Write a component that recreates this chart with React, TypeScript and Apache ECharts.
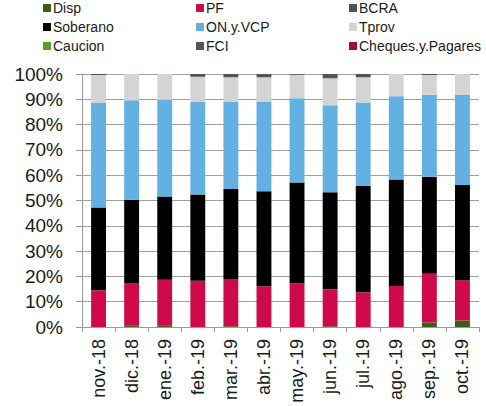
import React, { useEffect, useRef } from "react";
import * as echarts from "echarts";

const categories = ["nov.-18", "dic.-18", "ene.-19", "feb.-19", "mar.-19", "abr.-19", "may.-19", "jun.-19", "jul.-19", "ago.-19", "sep.-19", "oct.-19"];
const disp = [0, 0.5, 0.7, 0, 0.3, 0, 0, 0.3, 0, 0, 1.8, 2.6];
const pf = [14.5, 16.7, 18.0, 18.3, 18.7, 16.1, 17.3, 14.6, 13.7, 16.2, 19.2, 15.9];
const bcra = [0, 0, 0, 0, 0, 0, 0, 0, 0, 0, 0, 0];
const soberano = [32.7, 33.1, 32.9, 34.1, 35.5, 37.6, 39.8, 38.4, 42.0, 42.1, 38.4, 37.6];
const onVcp = [41.3, 39.3, 38.2, 36.5, 34.6, 35.4, 33.3, 34.3, 33.0, 32.9, 32.4, 35.6];
const tprov = [11.1, 10.4, 10.2, 10.0, 9.6, 9.6, 9.3, 10.7, 10.0, 8.8, 7.8, 8.3];
const caucion = [0, 0, 0, 0, 0, 0, 0, 0, 0, 0, 0, 0];
const fci = [0.4, 0, 0, 1.1, 1.3, 1.3, 0.3, 1.7, 1.3, 0, 0.4, 0];
const cheques = [0, 0, 0, 0, 0, 0, 0, 0, 0, 0, 0, 0];
const yTicks = [0, 10, 20, 30, 40, 50, 60, 70, 80, 90, 100];

const seriesDefs = [
  { name: "Disp", data: disp, color: "#3b5e17" },
  { name: "PF", data: pf, color: "#cf0a4b" },
  { name: "BCRA", data: bcra, color: "#4c5459" },
  { name: "Soberano", data: soberano, color: "#000000" },
  { name: "ON.y.VCP", data: onVcp, color: "#63b0e3" },
  { name: "Tprov", data: tprov, color: "#d3d5d5" },
  { name: "Caucion", data: caucion, color: "#5f9a2c" },
  { name: "FCI", data: fci, color: "#4f575c" },
  { name: "Cheques.y.Pagares", data: cheques, color: "#a3073f" },
];

const legendColX = [43, 196, 349];
const legendRowY = [8, 27, 46];

export default function App() {
  const ref = useRef<HTMLDivElement>(null);
  useEffect(() => {
    if (!ref.current) return;
    const chart = echarts.init(ref.current, null, { renderer: "svg" });
    const legendGraphics: any[] = [];
    seriesDefs.forEach((s, i) => {
      const x = legendColX[i % 3];
      const y = legendRowY[Math.floor(i / 3)];
      legendGraphics.push({
        type: "rect",
        shape: { x, y: y - 4, width: 8, height: 8 },
        style: { fill: s.color },
        silent: true,
      });
      legendGraphics.push({
        type: "text",
        x: x + 10,
        y,
        style: {
          text: s.name,
          fill: "#1a1a1a",
          font: "14px 'Liberation Sans'",
          verticalAlign: "middle",
          align: "left",
        },
        silent: true,
      });
    });
    chart.setOption({
      animation: false,
      textStyle: { fontFamily: "Liberation Sans" },
      legend: { show: false, data: seriesDefs.map((s) => s.name) },
      graphic: legendGraphics,
      grid: { left: 82, right: 7, top: 74, bottom: 79, containLabel: false },
      xAxis: {
        type: "category",
        data: categories,
        axisLine: { lineStyle: { color: "#9a9a9a", width: 1 } },
        axisTick: { show: true, length: 5, lineStyle: { color: "#9a9a9a" } },
        axisLabel: { rotate: 90, margin: 12, fontSize: 18, color: "#1a1a1a", fontFamily: "Liberation Sans" },
      },
      yAxis: {
        type: "value",
        min: yTicks[0],
        max: yTicks[yTicks.length - 1],
        interval: 10,
        axisLine: { show: true, lineStyle: { color: "#9a9a9a", width: 1 } },
        axisTick: { show: true, length: 6, lineStyle: { color: "#9a9a9a" } },
        splitLine: { show: true, lineStyle: { color: "#a0a0a0", width: 1 } },
        axisLabel: { formatter: "{value}%", margin: 19, fontSize: 19, color: "#1a1a1a", fontFamily: "Liberation Sans" },
      },
      series: seriesDefs.map((s) => ({
        name: s.name,
        type: "bar",
        stack: "total",
        barWidth: "45%",
        data: s.data,
        itemStyle: { color: s.color },
      })),
    });
    return () => chart.dispose();
  }, []);
  return <div ref={ref} style={{ position: "absolute", left: 0, top: 0, width: 486, height: 406 }} />;
}
